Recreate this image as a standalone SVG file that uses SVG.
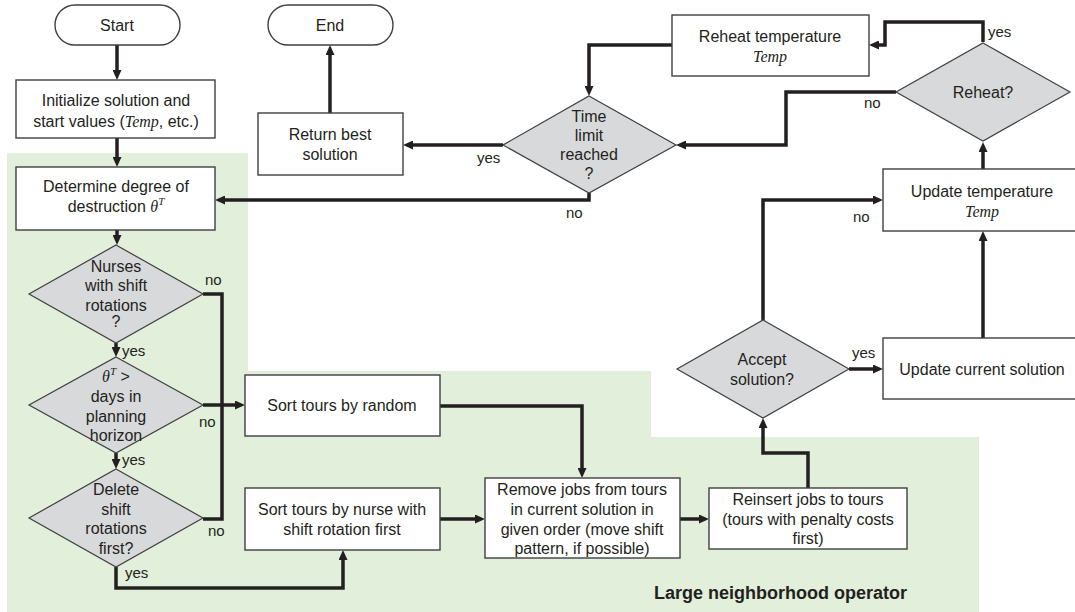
<svg xmlns="http://www.w3.org/2000/svg" width="1075" height="612" viewBox="0 0 1075 612">
  <defs>
    <marker id="arrow" markerUnits="userSpaceOnUse" markerWidth="10" markerHeight="9" refX="4" refY="4.5" orient="auto">
      <path d="M0,0 L10,4.5 L0,9 z" fill="#231f20"/>
    </marker>
    <style>
      .box { fill: #ffffff; stroke: #3f3f3f; stroke-width: 1.4; }
      .dec { fill: #d8d9db; stroke: #3f3f3f; stroke-width: 1.2; }
      .t { font-family: "Liberation Sans", Arial, sans-serif; font-size: 16px; fill: #231f20; text-anchor: middle; }
      .m { font-family: "Liberation Serif", "Times New Roman", serif; font-style: italic; }
      .lbl { font-family: "Liberation Sans", Arial, sans-serif; font-size: 15px; fill: #231f20; }
      .big { font-family: "Liberation Sans", Arial, sans-serif; font-size: 18px; font-weight: bold; fill: #231f20; text-anchor: end; }
      .c { fill: none; stroke: #231f20; stroke-width: 3.5; stroke-linejoin: miter; }
      .a { marker-end: url(#arrow); }
    </style>
  </defs>

  <rect width="1075" height="612" fill="#ffffff"/>

  <!-- operator region -->
  <g id="region">
    <path d="M7,153 H248 V371 H651 V437 H979 V612 H7 Z" fill="#e2efda"/>
    <text class="big" x="907" y="599">Large neighborhood operator</text>
  </g>

  <!-- connectors -->
  <g id="connectors">
    <path class="c a" d="M117,45 V74"/>
    <path class="c a" d="M117,138 V161"/>
    <path class="c a" d="M117,230 V239"/>
    <path class="c a" d="M116,343 V351"/>
    <path class="c a" d="M116,453 V463"/>
    <path class="c" d="M203,294 H222 V519 H203"/>
    <path class="c a" d="M203,405 H239"/>
    <path class="c a" d="M116,567 V588 H343 V556"/>
    <path class="c a" d="M440,406 H582 V472"/>
    <path class="c a" d="M440,519 H479"/>
    <path class="c a" d="M680,519 H703"/>
    <path class="c a" d="M808,488 V453 H763 V424"/>
    <path class="c a" d="M849,369 H877"/>
    <path class="c a" d="M763,320 V200 H877"/>
    <path class="c a" d="M983,338 V237"/>
    <path class="c a" d="M983,169 V148"/>
    <path class="c a" d="M983,42 V22 H885 V45 H875"/>
    <path class="c a" d="M896,92 H786 V145 H682"/>
    <path class="c a" d="M672,45 H589 V90"/>
    <path class="c a" d="M503,145 H409"/>
    <path class="c a" d="M589,193 V200 H221"/>
    <path class="c a" d="M330,113 V51"/>

    <text class="lbl" x="205" y="285">no</text>
    <text class="lbl" x="122" y="356">yes</text>
    <text class="lbl" x="199" y="427">no</text>
    <text class="lbl" x="122" y="465">yes</text>
    <text class="lbl" x="208" y="536">no</text>
    <text class="lbl" x="125" y="578">yes</text>
    <text class="lbl" x="477" y="163">yes</text>
    <text class="lbl" x="566" y="218">no</text>
    <text class="lbl" x="988" y="37">yes</text>
    <text class="lbl" x="864" y="108">no</text>
    <text class="lbl" x="853" y="222">no</text>
    <text class="lbl" x="852" y="358">yes</text>
  </g>

  <g id="start">
    <rect class="box" x="55" y="5" width="125" height="40" rx="20"/>
    <text class="t" x="117" y="31">Start</text>
  </g>

  <g id="end">
    <rect class="box" x="268" y="5" width="125" height="40" rx="20"/>
    <text class="t" x="330" y="31">End</text>
  </g>

  <g id="init">
    <rect class="box" x="16" y="80" width="199" height="58"/>
    <text class="t" x="116" y="106">Initialize solution and</text>
    <text class="t" x="116" y="127">start values (<tspan class="m">Temp</tspan>, etc.)</text>
  </g>

  <g id="destruction">
    <rect class="box" x="16" y="167" width="199" height="63"/>
    <text class="t" x="116" y="192">Determine degree of</text>
    <text class="t" x="116" y="212">destruction <tspan class="m">θ</tspan><tspan class="m" font-size="11" dy="-7">T</tspan></text>
  </g>

  <g id="nurses">
    <polygon class="dec" points="116,245 203,294 116,343 29,294"/>
    <text class="t" x="116" y="272">Nurses</text>
    <text class="t" x="116" y="291">with shift</text>
    <text class="t" x="116" y="311">rotations</text>
    <text class="t" x="116" y="327">?</text>
  </g>

  <g id="horizon">
    <polygon class="dec" points="116,357 203,405 116,453 29,405"/>
    <text class="t" x="116" y="382"><tspan class="m">θ</tspan><tspan class="m" font-size="11" dy="-7">T</tspan><tspan dy="7"> &gt;</tspan></text>
    <text class="t" x="116" y="402">days in</text>
    <text class="t" x="116" y="422">planning</text>
    <text class="t" x="116" y="441">horizon</text>
  </g>

  <g id="delete">
    <polygon class="dec" points="116,469 203,518 116,567 29,518"/>
    <text class="t" x="116" y="495">Delete</text>
    <text class="t" x="116" y="515">shift</text>
    <text class="t" x="116" y="534">rotations</text>
    <text class="t" x="116" y="554">first?</text>
  </g>

  <g id="sort-random">
    <rect class="box" x="245" y="375" width="195" height="61"/>
    <text class="t" x="342" y="411">Sort tours by random</text>
  </g>

  <g id="sort-nurse">
    <rect class="box" x="245" y="488" width="195" height="62"/>
    <text class="t" x="342" y="515">Sort tours by nurse with</text>
    <text class="t" x="342" y="535">shift rotation first</text>
  </g>

  <g id="remove">
    <rect class="box" x="485" y="478" width="195" height="80"/>
    <text class="t" x="582" y="495">Remove jobs from tours</text>
    <text class="t" x="582" y="515">in current solution in</text>
    <text class="t" x="582" y="535">given order (move shift</text>
    <text class="t" x="582" y="554">pattern, if possible)</text>
  </g>

  <g id="reinsert">
    <rect class="box" x="709" y="488" width="198" height="61"/>
    <text class="t" x="808" y="505">Reinsert jobs to tours</text>
    <text class="t" x="808" y="525">(tours with penalty costs</text>
    <text class="t" x="808" y="544">first)</text>
  </g>

  <g id="accept">
    <polygon class="dec" points="763,320 849,369 763,418 677,369"/>
    <text class="t" x="762" y="365">Accept</text>
    <text class="t" x="762" y="385">solution?</text>
  </g>

  <g id="update-current">
    <rect class="box" x="883" y="338" width="198" height="61"/>
    <text class="t" x="982" y="375">Update current solution</text>
  </g>

  <g id="update-temp">
    <rect class="box" x="883" y="169" width="198" height="62"/>
    <text class="t" x="982" y="197">Update temperature</text>
    <text class="t m" x="982" y="217">Temp</text>
  </g>

  <g id="reheat">
    <polygon class="dec" points="983,43 1070,92 983,141 896,92"/>
    <text class="t" x="983" y="98">Reheat?</text>
  </g>

  <g id="reheat-temp">
    <rect class="box" x="672" y="15" width="197" height="61"/>
    <text class="t" x="770" y="42">Reheat temperature</text>
    <text class="t m" x="770" y="62">Temp</text>
  </g>

  <g id="time-limit">
    <polygon class="dec" points="589,96 676,145 589,193 503,145"/>
    <text class="t" x="589" y="122">Time</text>
    <text class="t" x="589" y="141">limit</text>
    <text class="t" x="589" y="160">reached</text>
    <text class="t" x="589" y="179">?</text>
  </g>

  <g id="return-best">
    <rect class="box" x="258" y="113" width="145" height="62"/>
    <text class="t" x="330" y="140">Return best</text>
    <text class="t" x="330" y="160">solution</text>
  </g>
</svg>
